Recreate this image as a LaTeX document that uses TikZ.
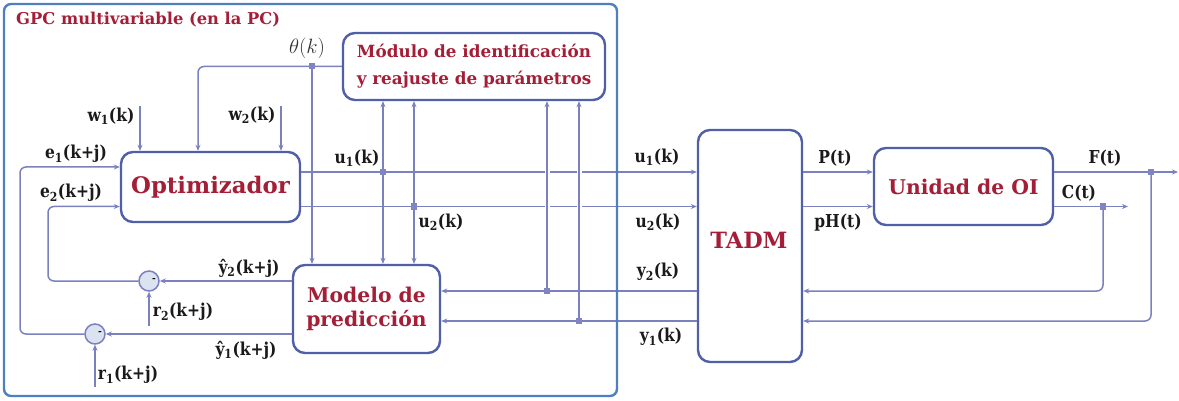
\documentclass[tikz,border=0pt]{standalone}
\usepackage{fontspec}
\setmainfont{DejaVu Serif}
\newfontfamily\lblfont{DejaVu Serif}[FakeStretch=0.87]
\usetikzlibrary{arrows.meta}
\definecolor{boxc}{HTML}{5060A8}
\definecolor{linec}{HTML}{7B80BF}
\definecolor{outc}{HTML}{4F7FBF}
\definecolor{redt}{HTML}{A51E37}
\definecolor{circf}{HTML}{DCE3F0}
\definecolor{junctc}{HTML}{8084C0}
\definecolor{lblc}{HTML}{1A1A1A}
\begin{document}
\begin{tikzpicture}[x=1pt,y=-1pt,
  blk/.style={draw=boxc, line width=2.4, rounded corners=12, fill=white, text=redt, align=center, inner sep=0},
  conn/.style={draw=linec, line width=1.5, rounded corners=6},
  arr/.style={conn, -{Stealth[length=6,width=5]}},
  lbl/.style={font=\lblfont\fontsize{17.8}{20}\selectfont\bfseries, text=lblc, inner sep=0},
  junct/.style={fill=junctc, minimum size=6.5, inner sep=0, draw=none, rectangle},
  sumc/.style={circle, draw=linec, line width=1.5, fill=circf, minimum size=20, inner sep=0},
  gap/.style={draw=white, line width=5}
]
\useasboundingbox (0,0) rectangle (1179,401);

% blocks
\node[blk, minimum width=262, minimum height=67, font=\fontsize{16.8}{27}\selectfont\bfseries] (mod) at (474,66.5) {Módulo de identificación\\y reajuste de parámetros};
\node[blk, minimum width=179, minimum height=70, font=\fontsize{22.8}{26}\selectfont\bfseries] (opt) at (210.5,187) {Optimizador};
\node[blk, minimum width=147, minimum height=88, font=\fontsize{20.3}{24}\selectfont\bfseries] (modelo) at (366.5,309) {Modelo de\\predicción};
\node[blk, minimum width=104, minimum height=232] (tadm) at (750,246) {};
\node[text=redt, font=\fontsize{22.4}{26}\selectfont\bfseries, inner sep=0] (tadmtxt) at (749,240) {TADM};
\node[blk, minimum width=179, minimum height=77, font=\fontsize{20.3}{24}\selectfont\bfseries] (uoi) at (963.5,186.5) {Unidad de OI};

% coordinates
\coordinate (thp) at (312,66);
\coordinate (u1p) at (383,172);
\coordinate (u2p) at (414,206.5);
\coordinate (y2p) at (547,291);
\coordinate (y1p) at (579,321);
\coordinate (fp) at (1151,172);
\coordinate (cp) at (1103,206.5);
\coordinate (fend) at (1178,172);
\coordinate (cend) at (1128,206.5);
\coordinate (w1s) at (140,106);
\coordinate (w2s) at (281,106);
\coordinate (e1r) at (0,167);
\coordinate (e1k) at (20,250);
\coordinate (e2k) at (48,240);
\coordinate (r2s) at (149,326);
\coordinate (r1s) at (95,387);

% summing junctions
\node[sumc] (c2) at (149,281) {};
\node[sumc] (c1) at (95,334) {};
\node[font=\fontsize{9}{10}\selectfont\bfseries, inner sep=0] (m2) at (154,280) {-};
\node[font=\fontsize{9}{10}\selectfont\bfseries, inner sep=0] (m1) at (100,333) {-};

% theta
\draw[arr] (mod.west) -| ([xshift=-12.5]opt.north);
\draw[arr] (thp) -- (thp |- modelo.north);
% references to optimizer
\draw[arr] (w1s) -- (w1s |- opt.north);
\draw[arr] (w2s) -- (w2s |- opt.north);
% control signals
\draw[arr] (opt.east |- u1p) -- (tadm.west |- u1p);
\draw[arr] (opt.east |- u2p) -- (tadm.west |- u2p);
\draw[gap] (547,164) -- (547,214);
\draw[gap] (579,164) -- (579,214);
\draw[arr] (u1p) -- (u1p |- mod.south);
\draw[arr] (u1p) -- (u1p |- modelo.north);
\draw[arr] (u2p) -- (u2p |- mod.south);
\draw[arr] (u2p) -- (u2p |- modelo.north);
% outputs measured
\draw[arr] (y2p) -- (y2p |- mod.south);
\draw[arr] (y1p) -- (y1p |- mod.south);
\draw[arr] (tadm.west |- y2p) -- (modelo.east |- y2p);
\draw[arr] (tadm.west |- y1p) -- (modelo.east |- y1p);
% predictions and errors
\draw[arr] (modelo.west |- c2) -- (c2);
\draw[arr] (modelo.west |- c1) -- (c1);
\draw[arr] (r2s) -- (c2);
\draw[arr] (r1s) -- (c1);
\draw[arr] (c2.west) -| (e2k) |- (opt.west |- u2p);
\draw[arr] (c1.west) -| (e1k) |- (opt.west |- e1r);
% plant side
\draw[arr] (tadm.east |- u1p) -- (uoi.west |- u1p);
\draw[arr] (tadm.east |- u2p) -- (uoi.west |- u2p);
\draw[arr] (uoi.east |- fp) -- (fend);
\draw[arr] (uoi.east |- cp) -- (cend);
\draw[arr] (cp) |- (tadm.east |- y2p);
\draw[arr] (fp) |- (tadm.east |- y1p);

% junction points
\node[junct] (j0) at (thp) {};
\node[junct] (j1) at (u1p) {};
\node[junct] (j2) at (u2p) {};
\node[junct] (j3) at (y2p) {};
\node[junct] (j4) at (y1p) {};
\node[junct] (j5) at (fp) {};
\node[junct] (j6) at (cp) {};

% labels
\node[text=black!80, inner sep=0, font=\fontsize{21}{24}\selectfont] (lth) at (307,48) {$\theta(k)$};
\node[lbl] (lw1) at (111,116) {w\textsubscript{1}(k)};
\node[lbl] (lw2) at (252,115) {w\textsubscript{2}(k)};
\node[lbl] (le1) at (76,154) {e\textsubscript{1}(k+j)};
\node[lbl] (le2) at (71,193) {e\textsubscript{2}(k+j)};
\node[lbl] (lu1a) at (357,158) {u\textsubscript{1}(k)};
\node[lbl] (lu2a) at (441,222) {u\textsubscript{2}(k)};
\node[lbl] (lu1b) at (657,157) {u\textsubscript{1}(k)};
\node[lbl] (lu2b) at (658,222) {u\textsubscript{2}(k)};
\node[lbl] (lyh2) at (249,268) {ŷ\textsubscript{2}(k+j)};
\node[lbl] (lr2) at (183,312) {r\textsubscript{2}(k+j)};
\node[lbl] (lyh1) at (246,350) {ŷ\textsubscript{1}(k+j)};
\node[lbl] (lr1) at (128,375) {r\textsubscript{1}(k+j)};
\node[lbl] (ly2) at (658,272) {y\textsubscript{2}(k)};
\node[lbl] (ly1) at (661,337) {y\textsubscript{1}(k)};
\node[lbl] (lP) at (835,158) {P(t)};
\node[lbl] (lpH) at (838,223) {pH(t)};
\node[lbl] (lF) at (1105,158) {F(t)};
\node[lbl] (lC) at (1079,193) {C(t)};

% outer GPC box and title
\node[draw=outc, line width=2.4, rounded corners=7, minimum width=613, minimum height=392, inner sep=0] (gpc) at (310.5,200) {};
\node[anchor=west, text=redt, font=\fontsize{16.3}{19}\selectfont\bfseries, inner sep=0] (title) at (16,20) {GPC multivariable (en la PC)};
\end{tikzpicture}
\end{document}
